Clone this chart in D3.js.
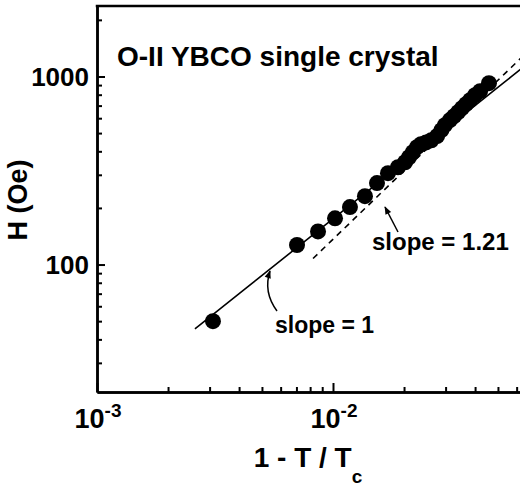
<!DOCTYPE html>
<html>
<head>
<meta charset="utf-8">
<script src="https://cdn.jsdelivr.net/npm/d3@7"></script>
<style>
  body { margin: 0; background: #fff; }
  svg { display: block; font-family: "Liberation Sans", Arial, sans-serif; font-weight: bold; }
</style>
</head>
<body>
<div id="chart"></div>
<script>
// reduced temperature 1 - T/Tc and field H (Oe)
var tValues = [0.0031, 0.00704, 0.00864, 0.0102, 0.0118, 0.01366, 0.01536, 0.0171, 0.01885,
               0.0202, 0.021, 0.0218, 0.0227, 0.0236, 0.0248, 0.0261, 0.0276, 0.0288, 0.0298,
               0.0313, 0.0326, 0.0339, 0.0352, 0.0366, 0.0381, 0.04, 0.042, 0.0458];
var hValues = [50, 127, 150, 176, 202, 231, 271, 306, 329,
               350, 372, 396, 421, 436, 446, 458, 482, 518, 551,
               586, 615, 646, 678, 712, 748, 795, 835, 921];

// power-law guide lines H = A * t^n
var fitSolid = { A: 17500, n: 1, from: 0.0026, to: 0.08 };
var fitDashed = { A: 35840, n: 1.21, from: 0.00823, to: 0.08 };

var xMajor = [1e-3, 1e-2];
var xMajorLabels = ["-3", "-2"];
var yMajor = [100, 1000];
var yMajorLabels = ["100", "1000"];

const width = 520;
const height = 495;
const margins = { top: 6, right: 0, bottom: 103, left: 97 };

const xScale = d3.scaleLog()
    .domain([1e-3, 0.062])
    .range([margins.left, width - margins.right]);

const yScale = d3.scaleLog()
    .domain([21, 2370])
    .range([height - margins.bottom, margins.top]);

const svg = d3.select("#chart").append("svg")
    .attr("width", width)
    .attr("height", height);

svg.append("clipPath").attr("id", "plotClip")
  .append("rect")
    .attr("x", margins.left)
    .attr("y", margins.top)
    .attr("width", width - margins.left - margins.right)
    .attr("height", height - margins.top - margins.bottom);

const plot = svg.append("g").attr("clip-path", "url(#plotClip)");

// guide lines
function fitLine(f) {
    var pts = d3.range(0, 41).map(function(i) {
        return Math.exp(Math.log(f.from) + i / 40 * (Math.log(f.to) - Math.log(f.from)));
    });
    return d3.line()
        .x(d => xScale(d))
        .y(d => yScale(f.A * Math.pow(d, f.n)))(pts);
}

plot.append("path")
    .attr("d", fitLine(fitSolid))
    .attr("fill", "none")
    .attr("stroke", "#000")
    .attr("stroke-width", 1.6);

plot.append("path")
    .attr("d", fitLine(fitDashed))
    .attr("fill", "none")
    .attr("stroke", "#000")
    .attr("stroke-width", 1.6)
    .attr("stroke-dasharray", "6,5");

// data points
plot.selectAll(".dot")
    .data(tValues)
    .enter().append("circle")
    .attr("class", "dot")
    .attr("cx", d => xScale(d))
    .attr("cy", (d, i) => yScale(hValues[i]))
    .attr("r", 8)
    .attr("fill", "#000");

// axes
const x0 = margins.left, y0 = height - margins.bottom;
const xMinor = [];
[1e-3, 1e-2].forEach(function(dec) {
    for (var k = 2; k <= 9; k++) xMinor.push(dec * k);
});
const yMinor = [];
[10, 100, 1000].forEach(function(dec) {
    for (var k = 2; k <= 9; k++) yMinor.push(dec * k);
});

function styleAxis(g) {
    g.selectAll("path.domain").attr("stroke-width", 2.5);
    g.selectAll(".tick line").attr("stroke-width", 2);
    g.selectAll("text").remove();
}

svg.append("g")
    .attr("transform", "translate(0," + y0 + ")")
    .call(d3.axisBottom(xScale).tickValues(xMinor.filter(d => d <= 0.062)).tickSizeInner(-5).tickSizeOuter(0))
    .call(styleAxis);
svg.append("g")
    .attr("transform", "translate(0," + y0 + ")")
    .call(d3.axisBottom(xScale).tickValues(xMajor).tickSizeInner(-9).tickSizeOuter(0))
    .call(styleAxis);

svg.append("g")
    .attr("transform", "translate(" + x0 + ",0)")
    .call(d3.axisLeft(yScale).tickValues(yMinor.filter(d => d >= 21 && d <= 2370)).tickSizeInner(-5).tickSizeOuter(0))
    .call(styleAxis);
svg.append("g")
    .attr("transform", "translate(" + x0 + ",0)")
    .call(d3.axisLeft(yScale).tickValues(yMajor).tickSizeInner(-8).tickSizeOuter(0))
    .call(styleAxis);

// top frame line
svg.append("line")
    .attr("x1", x0 - 1.25).attr("x2", width)
    .attr("y1", margins.top).attr("y2", margins.top)
    .attr("stroke", "#000").attr("stroke-width", 2.5);

// tick labels
svg.selectAll(".ylab")
    .data(yMajor)
    .enter().append("text")
    .attr("class", "ylab")
    .attr("x", x0 - 8)
    .attr("y", d => yScale(d))
    .attr("dy", "0.36em")
    .style("text-anchor", "end")
    .style("font-size", "26px")
    .text((d, i) => yMajorLabels[i]);

const xlab = svg.selectAll(".xlab")
    .data(xMajor)
    .enter().append("text")
    .attr("class", "xlab")
    .attr("x", d => xScale(d) + 1)
    .attr("y", y0 + 36)
    .style("text-anchor", "middle")
    .style("font-size", "27px");
xlab.append("tspan").text("10");
xlab.append("tspan")
    .attr("dy", -11)
    .style("font-size", "19px")
    .text((d, i) => xMajorLabels[i]);

// axis titles
const xt = svg.append("text")
    .attr("x", 308)
    .attr("y", 467)
    .style("text-anchor", "middle")
    .style("font-size", "28px");
xt.append("tspan").text("1 - T / T");
xt.append("tspan").attr("dy", 16).style("font-size", "19px").text("c");

svg.append("text")
    .attr("transform", "translate(27,200) rotate(-90)")
    .style("text-anchor", "middle")
    .style("font-size", "27px")
    .text("H (Oe)");

// title inside plot
svg.append("text")
    .attr("x", 117)
    .attr("y", 66)
    .style("font-size", "28px")
    .text("O-II YBCO single crystal");

// annotations
svg.append("defs").append("marker")
    .attr("id", "head")
    .attr("viewBox", "0 0 10 10")
    .attr("refX", 9).attr("refY", 5)
    .attr("markerWidth", 9).attr("markerHeight", 8)
    .attr("markerUnits", "userSpaceOnUse")
    .attr("orient", "auto")
  .append("path")
    .attr("d", "M0,1 L10,5 L0,9 Z")
    .attr("fill", "#000");

svg.append("text")
    .attr("x", 372)
    .attr("y", 250)
    .style("font-size", "24px")
    .text("slope = 1.21");

svg.append("line")
    .attr("x1", 398).attr("y1", 232)
    .attr("x2", 385).attr("y2", 207)
    .attr("stroke", "#000").attr("stroke-width", 1.5)
    .attr("marker-end", "url(#head)");

svg.append("text")
    .attr("x", 275)
    .attr("y", 333)
    .style("font-size", "23px")
    .text("slope = 1");

svg.append("path")
    .attr("d", "M277,311 Q263,292 270,271")
    .attr("fill", "none")
    .attr("stroke", "#000").attr("stroke-width", 1.5)
    .attr("marker-end", "url(#head)");
</script>
</body>
</html>
